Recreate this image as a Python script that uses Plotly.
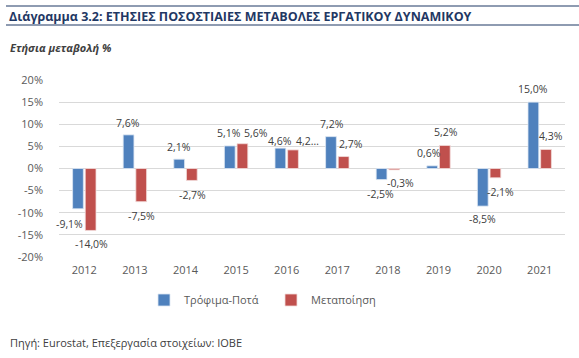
import plotly.graph_objects as go

years = ["2012", "2013", "2014", "2015", "2016", "2017", "2018", "2019", "2020", "2021"]
food_bev = [-9.1, 7.6, 2.1, 5.1, 4.6, 7.2, -2.5, 0.6, -8.5, 15.0]
manufacturing = [-14.0, -7.5, -2.7, 5.6, 4.2, 2.7, -0.3, 5.2, -2.1, 4.3]
food_labels = ["-9,1%", "7,6%", "2,1%", "5,1%", "4,6%", "7,2%", "-2,5%", "0,6%", "-8,5%", "15,0%"]
manu_labels = ["-14,0%", "-7,5%", "-2,7%", "5,6%", "4,2…", "2,7%", "-0,3%", "5,2%", "-2,1%", "4,3%"]
y_ticks = [-20, -15, -10, -5, 0, 5, 10, 15, 20]
y_tick_labels = ["-20%", "-15%", "-10%", "-5%", "0%", "5%", "10%", "15%", "20%"]

# label nudges in pixels (style only), as Excel places them
food_dx = [-8, 0, 0, 0, 0, 2, 0, -3, 0, 0]
manu_dx = [0, 0, 0, 13, 14, 7, 6, 0, 4, 4]
food_dy = [15, 12, 12, 13, 7, 13, 14, 13, 13, 13]
manu_dy = [14, 14, 15, 11, 9, 13, 13, 13, 14, 13]

FONT = "Open Sans"
W, H = 579, 358
L, R, T, B = 59, 14, 80, 101
pw, ph = W - L - R, H - T - B
BAR_OFF = 7  # half distance between grouped bar centres, px

def px(x):
    return (x - L) / pw

def py(y):
    return (H - B - y) / ph

fig = go.Figure()
fig.add_trace(go.Bar(
    x=years, y=food_bev, name="Τρόφιμα-Ποτά",
    marker=dict(color="#4F81BD", line=dict(color="#DCE6F2", width=0.8)),
))
fig.add_trace(go.Bar(
    x=years, y=manufacturing, name="Μεταποίηση",
    marker=dict(color="#C0504D", line=dict(color="#F2DCDB", width=0.8)),
))

for vals, labels, dxs, dys, side in [(food_bev, food_labels, food_dx, food_dy, -1),
                                     (manufacturing, manu_labels, manu_dx, manu_dy, 1)]:
    for i, (v, lab, dx, dy) in enumerate(zip(vals, labels, dxs, dys)):
        # category axis: annotation x given as category index
        fig.add_annotation(x=i, y=v, text=lab, showarrow=False,
                           xshift=side * BAR_OFF + dx, yshift=dy if v >= 0 else -dy,
                           xanchor="center", yanchor="middle",
                           font=dict(family=FONT, size=10.5, color="#404040"))

fig.update_layout(
    width=W, height=H,
    margin=dict(l=L, r=R, t=T, b=B, autoexpand=False),
    paper_bgcolor="white", plot_bgcolor="white",
    barmode="group", bargap=0.5, bargroupgap=0.15,
    font=dict(family=FONT, color="#595959", size=11),
    showlegend=True,
    legend=dict(orientation="h", x=px(271), y=py(300), xanchor="center", yanchor="middle",
                font=dict(family=FONT, size=11, color="#595959"), itemwidth=30,
                entrywidth=82, entrywidthmode="pixels",
                traceorder="normal"),
)
fig.update_yaxes(range=[-20, 20], tickvals=y_ticks, ticktext=y_tick_labels,
                 showgrid=True, gridcolor="#D9D9D9", gridwidth=1,
                 zeroline=True, zerolinecolor="#D9D9D9", zerolinewidth=1,
                 showline=False, ticks="", ticklabelstandoff=15,
                 tickfont=dict(family=FONT, size=11, color="#595959"))
fig.update_xaxes(type="category", categoryorder="array", categoryarray=years,
                 range=[-0.5, len(years) - 0.5],
                 showgrid=False, showline=False, ticks="", ticklabelstandoff=5,
                 tickfont=dict(family=FONT, size=11, color="#595959"))

fig.add_annotation(text="<b>Διάγραμμα 3.2: ΕΤΗΣΙΕΣ ΠΟΣΟΣΤΙΑΙΕΣ ΜΕΤΑΒΟΛΕΣ ΕΡΓΑΤΙΚΟΥ ΔΥΝΑΜΙΚΟΥ</b>",
                   xref="paper", yref="paper", x=px(7), y=py(16), xanchor="left", yanchor="middle",
                   showarrow=False, font=dict(family=FONT, size=12.5, color="#1F3864"))
fig.add_annotation(text="<b><i>Ετήσια μεταβολή %</i></b>",
                   xref="paper", yref="paper", x=px(8), y=py(47), xanchor="left", yanchor="middle",
                   showarrow=False, font=dict(family=FONT, size=11, color="#404040"))
fig.add_annotation(text="Πηγή: Eurostat, Επεξεργασία στοιχείων: ΙΟΒΕ",
                   xref="paper", yref="paper", x=px(8), y=py(342), xanchor="left", yanchor="middle",
                   showarrow=False, font=dict(family=FONT, size=11, color="#404040"))
fig.add_shape(type="line", xref="paper", yref="paper", x0=px(6), x1=px(579), y0=py(6), y1=py(6),
              line=dict(color="#1F3864", width=1.2))
fig.add_shape(type="line", xref="paper", yref="paper", x0=px(6), x1=px(579), y0=py(25), y1=py(25),
              line=dict(color="#1F3864", width=1.2))

fig.write_html("out.html", config={"displayModeBar": False},
               post_script="document.body.style.margin='0';")
